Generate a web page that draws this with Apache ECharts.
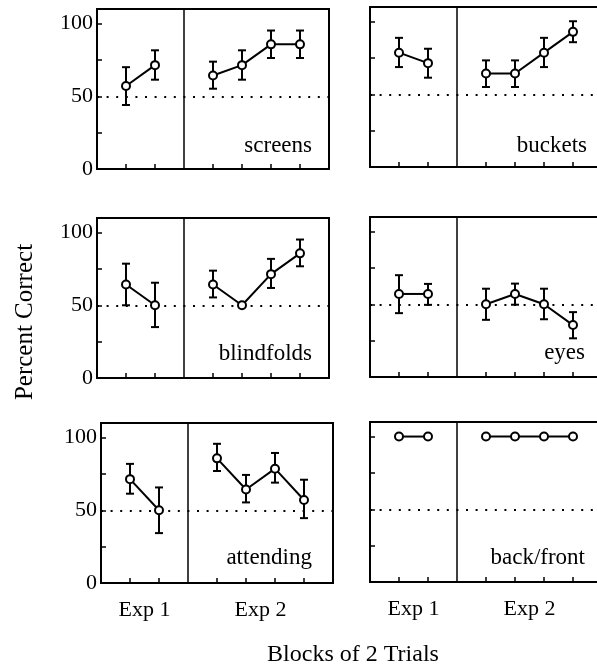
<!DOCTYPE html>
<html>
<head>
<meta charset="utf-8">
<script src="https://cdn.jsdelivr.net/npm/echarts@6/dist/echarts.min.js"></script>
<style>
html, body { margin: 0; padding: 0; background: #fff; }
#main { width: 597px; height: 667px; }
</style>
</head>
<body>
<div id="main"></div>
<script>
// block positions on the x scale (3 is the Exp 1 / Exp 2 divider)
var exp1Blocks = [1, 2];
var exp2Blocks = [4, 5, 6, 7];
var dividerAt = 3;
var expLabels = ['Exp 1', 'Exp 2'];
var expLabelAt = [1.5, 5.5];
var yTicks = [0, 25, 50, 75, 100];
var yTickLabels = [0, 50, 100];
var chanceLevel = 50;

var panelNames = ['screens', 'buckets', 'blindfolds', 'eyes', 'attending', 'back/front'];

// percent correct: 2 Exp 1 blocks then 4 Exp 2 blocks, with error bar ends
var screensMean = [57.1, 71.4, 64.3, 71.4, 85.7, 85.7];
var screensLow  = [44, 61.4, 55.2, 61.4, 76.3, 76.3];
var screensHigh = [70, 81.6, 73.8, 81.6, 95.2, 95.2];

var bucketsMean = [78.6, 71.4, 64.3, 64.3, 78.6, 92.9];
var bucketsLow  = [68.7, 61.4, 55, 55, 68.7, 85.8];
var bucketsHigh = [88.8, 81.3, 73.3, 73.3, 88.8, 100.2];

var blindfoldsMean = [64.3, 50, 64.3, 50, 71.4, 85.7];
var blindfoldsLow  = [50, 35, 55.4, 50, 61.9, 76.8];
var blindfoldsHigh = [78.6, 65.5, 73.8, 50, 81.9, 95.2];

var eyesMean = [57.1, 57.1, 50, 57.1, 50, 35.7];
var eyesLow  = [43.9, 49.6, 39.3, 49.7, 39.7, 26.6];
var eyesHigh = [70, 64, 60.7, 64.2, 60.7, 44.6];

var attendingMean = [71.4, 50, 85.7, 64.3, 78.6, 57.1];
var attendingLow  = [61.4, 34.3, 77, 55.4, 69, 44.6];
var attendingHigh = [81.9, 65.7, 95.7, 74.3, 89.4, 71];

var backFrontMean = [100, 100, 100, 100, 100, 100];
var backFrontLow  = [100, 100, 100, 100, 100, 100];
var backFrontHigh = [100, 100, 100, 100, 100, 100];

var means = [screensMean, bucketsMean, blindfoldsMean, eyesMean, attendingMean, backFrontMean];
var lows = [screensLow, bucketsLow, blindfoldsLow, eyesLow, attendingLow, backFrontLow];
var highs = [screensHigh, bucketsHigh, blindfoldsHigh, eyesHigh, attendingHigh, backFrontHigh];

// layout of the six panels
var panelLeft = [97, 370, 97, 370, 101, 370];
var panelTop = [9, 7, 218, 217, 423, 422];
var panelW = 232, panelH = 160;
var nameRight = [312, 587, 312, 585, 312, 585];
var nameY = [146, 146, 354, 353, 558, 558];

var font = 'Liberation Serif';
var myChart = echarts.init(document.getElementById('main'));

function errorBars(params, api) {
    var x = api.value(0), lo = api.value(1), hi = api.value(2);
    if (lo === hi) return;
    var t = api.coord([x, hi]), b = api.coord([x, lo]);
    var w = 4;
    var st = { stroke: '#000', lineWidth: 2 };
    return {
        type: 'group',
        children: [
            { type: 'line', shape: { x1: t[0], y1: t[1], x2: b[0], y2: b[1] }, style: st },
            { type: 'line', shape: { x1: t[0] - w, y1: t[1], x2: t[0] + w, y2: t[1] }, style: st },
            { type: 'line', shape: { x1: b[0] - w, y1: b[1], x2: b[0] + w, y2: b[1] }, style: st }
        ]
    };
}

var grid = [], xAxis = [], yAxis = [], series = [], graphic = [];

for (var i = 0; i < 6; i++) {
    var leftCol = i % 2 === 0;
    var bottomRow = i >= 4;
    grid.push({
        left: panelLeft[i], top: panelTop[i], width: panelW, height: panelH,
        outerBoundsMode: 'none', containLabel: false,
        show: true, borderColor: '#000', borderWidth: 2, backgroundColor: 'transparent'
    });
    xAxis.push({
        type: 'value', gridIndex: i, min: 0, max: 8,
        axisLine: { show: false },
        splitLine: { show: false },
        axisTick: { show: true, inside: true, length: 5, customValues: exp1Blocks.concat(exp2Blocks),
            lineStyle: { color: '#000', width: 1.5 } },
        axisLabel: {
            show: bottomRow, customValues: expLabelAt, margin: 16,
            fontFamily: font, fontSize: 22, color: '#000',
            formatter: function (v) { return v < dividerAt ? expLabels[0] : expLabels[1]; }
        }
    });
    yAxis.push({
        type: 'value', gridIndex: i, min: 0, max: 110,
        axisLine: { show: false },
        splitLine: { show: false },
        axisTick: { show: true, inside: true, length: 5, customValues: yTicks,
            lineStyle: { color: '#000', width: 1.5 } },
        axisLabel: {
            show: leftCol, customValues: yTickLabels, margin: 4,
            fontFamily: font, fontSize: 22, color: '#000'
        }
    });

    var m = means[i], lo = lows[i], hi = highs[i];
    var barData = [];
    var blocks = exp1Blocks.concat(exp2Blocks);
    for (var k = 0; k < blocks.length; k++) barData.push([blocks[k], lo[k], hi[k]]);

    series.push({
        type: 'custom', xAxisIndex: i, yAxisIndex: i, z: 2,
        renderItem: errorBars, data: barData, encode: { x: 0, y: [1, 2] }
    });

    var lineBase = {
        type: 'line', xAxisIndex: i, yAxisIndex: i, z: 4,
        symbol: 'circle', symbolSize: 8,
        itemStyle: { color: '#fff', borderColor: '#000', borderWidth: 2 },
        lineStyle: { color: '#000', width: 2 }
    };
    var s1 = Object.assign({}, lineBase, {
        data: exp1Blocks.map(function (b, k) { return [b, m[k]]; }),
        markLine: {
            silent: true, symbol: 'none', z: 1,
            label: { show: false },
            data: [
                { yAxis: chanceLevel, lineStyle: { color: '#000', width: 2, type: [2, 7.6] } },
                { xAxis: dividerAt, lineStyle: { color: '#000', width: 1.5, type: 'solid' } }
            ]
        }
    });
    var s2 = Object.assign({}, lineBase, {
        data: exp2Blocks.map(function (b, k) { return [b, m[k + 2]]; })
    });
    series.push(s1, s2);

    graphic.push({
        type: 'text', x: nameRight[i], y: nameY[i],
        style: { text: panelNames[i], font: '23px "' + font + '"', fill: '#000',
            align: 'right', verticalAlign: 'middle' }
    });
}

graphic.push({
    type: 'text', x: 25, y: 322, rotation: Math.PI / 2,
    style: { text: 'Percent Correct', font: '25px "' + font + '"', fill: '#000',
        align: 'center', verticalAlign: 'middle' }
});
graphic.push({
    type: 'text', x: 353, y: 655,
    style: { text: 'Blocks of 2 Trials', font: '24px "' + font + '"', fill: '#000',
        align: 'center', verticalAlign: 'middle' }
});

var option = {
    animation: false,
    backgroundColor: '#fff',
    grid: grid,
    xAxis: xAxis,
    yAxis: yAxis,
    series: series,
    graphic: graphic
};

myChart.setOption(option);
</script>
</body>
</html>
